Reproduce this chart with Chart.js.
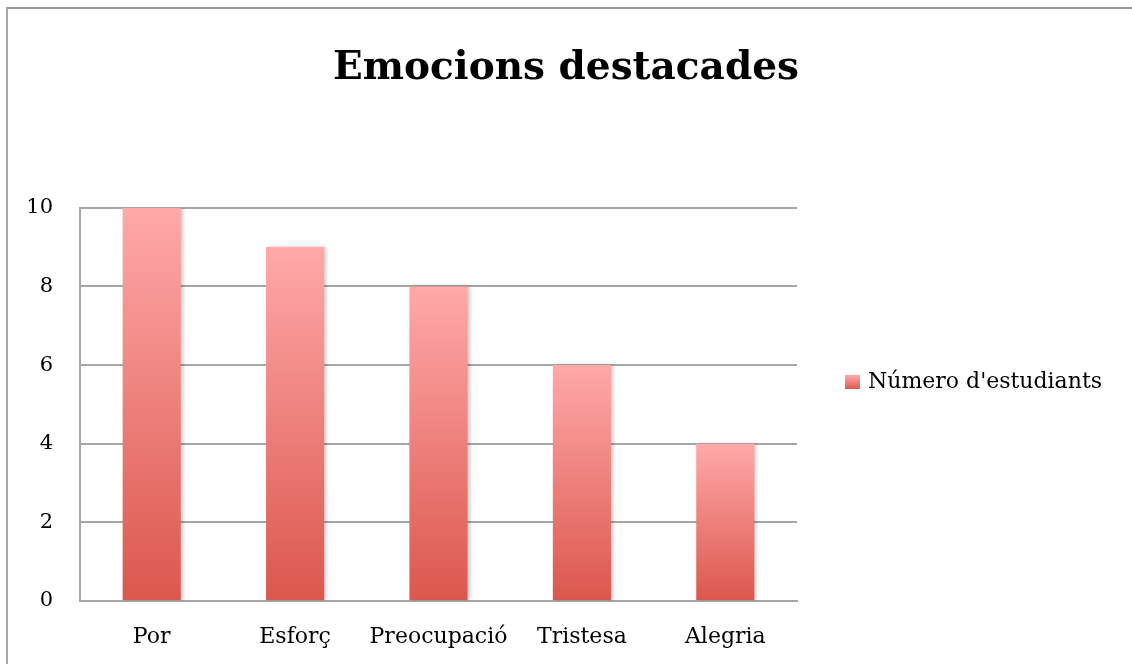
<!DOCTYPE html>
<html>
<head>
<meta charset="utf-8">
<script src="https://cdn.jsdelivr.net/npm/chart.js@4"></script>
<style>
  body { margin: 0; background: #fff; }
  #wrap { position: relative; width: 1132px; height: 664px; overflow: hidden; }
  #frame { position: absolute; left: 6px; top: 7px; width: 1140px; height: 680px;
           border-top: 2px solid #9a9a9a; border-left: 2px solid #a8a8a8; }
  #chart { position: absolute; left: 0; top: 0; }
</style>
</head>
<body>
<div id="wrap">
  <div id="frame"></div>
  <canvas id="chart" width="1132" height="664"></canvas>
</div>
<script>
// chart data
const categories = ["Por", "Esforç", "Preocupació", "Tristesa", "Alegria"];
const studentCounts = [10, 9, 8, 6, 4];
const seriesLabel = "Número d'estudiants";
const chartTitle = "Emocions destacades";

const topColor = "#FFA9A9";
const bottomColor = "#DB574D";
const fontFamily = "'DejaVu Serif', serif";

// vertical gradient for every bar, from its top down to zero
const barFill = (context) => {
    let chart = context.chart;
    if (!chart.chartArea || context.raw === undefined) return bottomColor;
    let yScale = chart.scales.y;
    let top = yScale.getPixelForValue(context.raw);
    let base = yScale.getPixelForValue(0);
    let grad = chart.ctx.createLinearGradient(0, top, 0, base);
    grad.addColorStop(0, topColor);
    grad.addColorStop(1, bottomColor);
    return grad;
};

// little gradient square for the legend
const legendBox = document.createElement("canvas");
legendBox.width = 15;
legendBox.height = 14;
{
    let c = legendBox.getContext("2d");
    let g = c.createLinearGradient(0, 0, 0, 14);
    g.addColorStop(0, topColor);
    g.addColorStop(1, bottomColor);
    c.fillStyle = g;
    c.fillRect(0, 0, 15, 14);
}

const barShadow = {
    id: "barShadow",
    beforeDatasetsDraw(chart) {
        let ctx = chart.ctx;
        ctx.save();
        ctx.shadowColor = "rgba(0,0,0,0.22)";
        ctx.shadowBlur = 4;
        ctx.shadowOffsetX = 2;
    },
    afterDatasetsDraw(chart) {
        chart.ctx.restore();
    }
};

// fixed legend width, and legend item a little above the plot's middle
const legendPlace = {
    id: "legendPlace",
    beforeLayout(chart) {
        let lg = chart.legend;
        if (!lg || lg._fitWrapped) return;
        let origFit = lg.fit;
        lg.fit = function () {
            origFit.call(this);
            this.width = 335;
        };
        lg._fitWrapped = true;
    },
    afterLayout(chart) {
        let lg = chart.legend;
        let area = chart.chartArea;
        if (!lg || !area) return;
        let centre = (area.top + area.bottom) / 2 - 24;
        lg.top = centre - 98;
        lg.bottom = centre + 102;
    }
};

new Chart(document.getElementById("chart"), {
    type: "bar",
    data: {
        labels: categories,
        datasets: [{
            label: seriesLabel,
            data: studentCounts,
            backgroundColor: barFill,
            borderWidth: 0,
            barPercentage: 0.81,
            categoryPercentage: 0.5
        }]
    },
    options: {
        responsive: false,
        animation: false,
        layout: { padding: 0 },
        scales: {
            x: {
                afterFit: (scale) => { scale.height = 63; },
                grid: { display: false, drawTicks: false },
                border: { color: "#a6a6a6", width: 2 },
                ticks: { color: "#000", font: { family: fontFamily, size: 22 }, padding: 23, maxRotation: 0 }
            },
            y: {
                min: 0,
                max: 10,
                afterFit: (scale) => { scale.width = 80; },
                ticks: { stepSize: 2, color: "#000", font: { family: fontFamily, size: 21 }, padding: 27 },
                grid: { color: "#a6a6a6", lineWidth: 2, drawTicks: false },
                border: { color: "#a6a6a6", width: 2 }
            }
        },
        plugins: {
            title: {
                display: true,
                text: chartTitle,
                color: "#000",
                font: { family: fontFamily, size: 39, weight: "bold" },
                padding: { top: 45, bottom: 116 }
            },
            legend: {
                position: "right",
                labels: {
                    color: "#000",
                    font: { family: fontFamily, size: 22 },
                    usePointStyle: true,
                    pointStyle: legendBox,
                    boxWidth: 10,
                    padding: 50,
                    generateLabels: (chart) => [{
                        text: seriesLabel,
                        pointStyle: legendBox,
                        fillStyle: bottomColor,
                        lineWidth: 0,
                        datasetIndex: 0
                    }]
                }
            },
            tooltip: { enabled: false }
        }
    },
    plugins: [barShadow, legendPlace]
});
</script>
</body>
</html>
